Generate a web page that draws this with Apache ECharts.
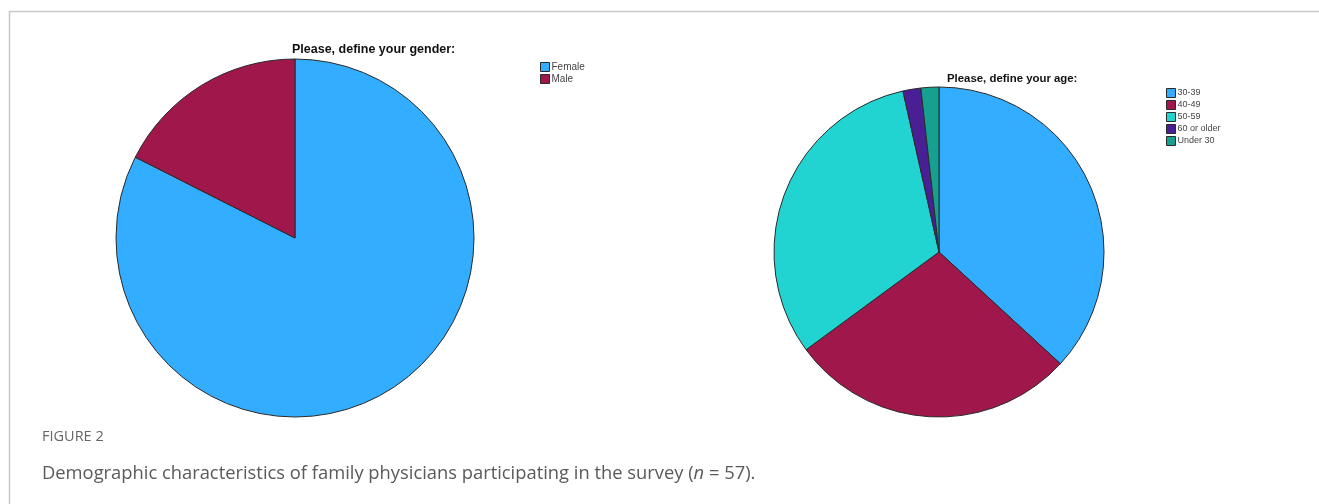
<!DOCTYPE html>
<html>
<head>
<meta charset="utf-8">
<script src="https://cdn.jsdelivr.net/npm/echarts@6/dist/echarts.min.js"></script>
<style>
html,body{margin:0;padding:0;background:#fff;}
#chart{width:1319px;height:504px;}
</style>
</head>
<body>
<div id="chart"></div>
<script>
// Data
const genderCategories = ['Female', 'Male'];
const genderValues = [47, 10];
const ageCategories = ['30-39', '40-49', '50-59', '60 or older', 'Under 30'];
const ageValues = [21, 16, 18, 1, 1];
const genderTitle = 'Please, define your gender:';
const ageTitle = 'Please, define your age:';
const figureLabel = 'FIGURE 2';
const captionText = 'Demographic characteristics of family physicians participating in the survey (';
const captionN = 'n';
const captionEnd = ' = 57).';

const genderColors = ['#33adff', '#a0174b'];
const ageColors = ['#33adff', '#a0174b', '#22d4d1', '#4a1f96', '#16a08f'];

const chart = echarts.init(document.getElementById('chart'), null, {renderer: 'canvas'});

const itemStyleBase = {borderColor: '#2a2a2a', borderWidth: 1};

chart.setOption({
  animation: false,
  backgroundColor: '#fff',
  title: [
    {text: genderTitle, left: 292, top: 43, padding: 0, textStyle: {fontFamily: 'Liberation Sans, Arial, sans-serif', fontSize: 12.5, fontWeight: 'bold', color: '#111'}},
    {text: ageTitle, left: 947, top: 73, padding: 0, textStyle: {fontFamily: 'Liberation Sans, Arial, sans-serif', fontSize: 11.4, fontWeight: 'bold', color: '#111'}},
    {text: figureLabel, left: 42, top: 429, padding: 0, textStyle: {fontFamily: 'Open Sans, sans-serif', fontSize: 14.5, fontWeight: 'normal', color: '#666'}},
    {text: '{a|' + captionText + '}{i|' + captionN + '}{a|' + captionEnd + '}', left: 42, top: 465, padding: 0,
      textStyle: {fontWeight: 'normal', rich: {
        a: {fontFamily: 'Open Sans, sans-serif', fontSize: 18.35, fontWeight: 'normal', color: '#5a5a5a'},
        i: {fontFamily: 'Open Sans, sans-serif', fontSize: 18.35, fontWeight: 'normal', color: '#5a5a5a', fontStyle: 'italic'}
      }}}
  ],
  legend: [
    {data: genderCategories, orient: 'vertical', left: 540, top: 62, icon: 'rect', itemWidth: 9, itemHeight: 9, itemGap: 2,
      itemStyle: {borderColor: '#2a2a2a', borderWidth: 1},
      textStyle: {fontFamily: 'Liberation Sans, Arial, sans-serif', fontSize: 10, color: '#444', lineHeight: 9, padding: [0, 0, 0, -3]}, padding: 0},
    {data: ageCategories, orient: 'vertical', left: 1166, top: 88, icon: 'rect', itemWidth: 9, itemHeight: 9, itemGap: 2,
      itemStyle: {borderColor: '#2a2a2a', borderWidth: 1},
      textStyle: {fontFamily: 'Liberation Sans, Arial, sans-serif', fontSize: 9, color: '#444', lineHeight: 9, padding: [0, 0, 0, -3]}, padding: 0}
  ],
  graphic: [
    {type: 'polyline', shape: {points: [[9.5, 504], [9.5, 11.5], [1319, 11.5]]}, style: {stroke: '#c8c8c8', lineWidth: 1.5, fill: null}}
  ],
  series: [
    {type: 'pie', center: [295, 238], radius: [0, 179], startAngle: 90, clockwise: true,
      label: {show: false}, labelLine: {show: false}, emphasis: {disabled: true},
      itemStyle: itemStyleBase,
      data: genderCategories.map((c, i) => ({name: c, value: genderValues[i], itemStyle: {color: genderColors[i]}}))},
    {type: 'pie', center: [939, 252], radius: [0, 165], startAngle: 90, clockwise: true,
      label: {show: false}, labelLine: {show: false}, emphasis: {disabled: true},
      itemStyle: itemStyleBase,
      data: ageCategories.map((c, i) => ({name: c, value: ageValues[i], itemStyle: {color: ageColors[i]}}))}
  ]
});
</script>
</body>
</html>
